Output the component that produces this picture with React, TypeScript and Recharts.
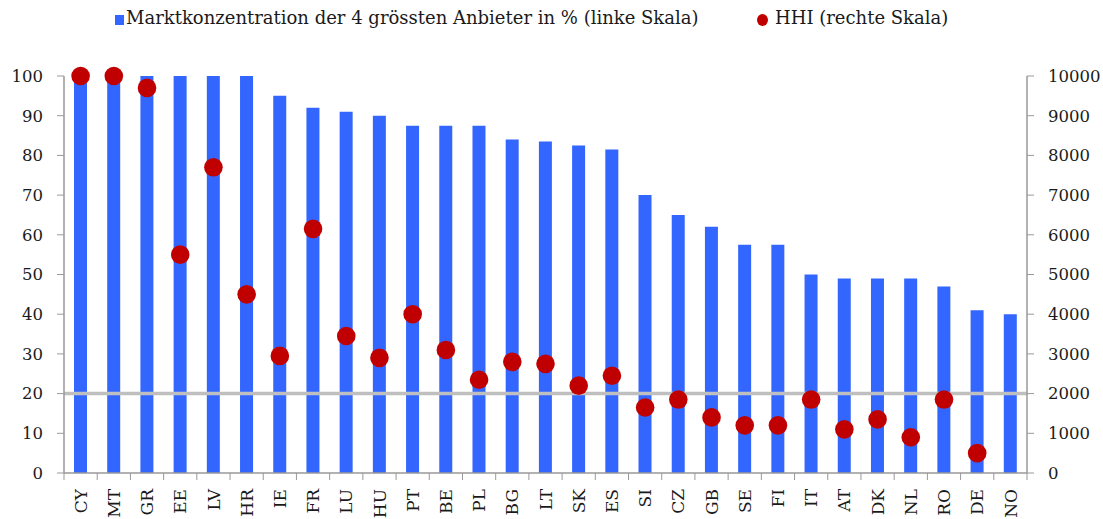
import {
  ComposedChart,
  Bar,
  Scatter,
  XAxis,
  YAxis,
  ReferenceLine,
  Legend,
} from 'recharts';

const countries = [
  'CY', 'MT', 'GR', 'EE', 'LV', 'HR', 'IE', 'FR', 'LU', 'HU',
  'PT', 'BE', 'PL', 'BG', 'LT', 'SK', 'ES', 'SI', 'CZ', 'GB',
  'SE', 'FI', 'IT', 'AT', 'DK', 'NL', 'RO', 'DE', 'NO',
];

const concentration = [
  100, 100, 100, 100, 100, 100, 95, 92, 91, 90,
  87.5, 87.5, 87.5, 84, 83.5, 82.5, 81.5, 70, 65, 62,
  57.5, 57.5, 50, 49, 49, 49, 47, 41, 40,
];

const hhi: (number | null)[] = [
  10000, 10000, 9700, 5500, 7700, 4500, 2950, 6150, 3450, 2900,
  4000, 3100, 2350, 2800, 2750, 2200, 2450, 1650, 1850, 1400,
  1200, 1200, 1850, 1100, 1350, 900, 1850, 500, null,
];

const leftTicks = [0, 10, 20, 30, 40, 50, 60, 70, 80, 90, 100];
const rightTicks = [0, 1000, 2000, 3000, 4000, 5000, 6000, 7000, 8000, 9000, 10000];

const data = countries.map((c, i) => ({
  country: c,
  conc: concentration[i],
  hhi: hhi[i],
}));

const FONT = '"DejaVu Serif", serif';
const BLUE = '#3366FF';
const RED = '#C00000';
const AXIS = '#999999';
const TEXT = '#1a1a1a';

const PLOT_LEFT = 64;
const PLOT_RIGHT = 1027;
const STEP = (PLOT_RIGHT - PLOT_LEFT) / countries.length;

function CountryTick(props: any) {
  const { x, y, payload, index } = props;
  const last = index === countries.length - 1;
  return (
    <g>
      <line x1={x - STEP / 2} y1={y - 8} x2={x - STEP / 2} y2={y - 1} stroke={AXIS} />
      {last && (
        <line x1={x + STEP / 2} y1={y - 8} x2={x + STEP / 2} y2={y - 1} stroke={AXIS} />
      )}
      <text
        transform={`translate(${x},${y + 8}) rotate(-90)`}
        textAnchor="end"
        dy="0.36em"
        fontSize={17}
        fill={TEXT}
        fontFamily={FONT}
      >
        {payload.value}
      </text>
    </g>
  );
}

function Dot(props: any) {
  const { cx, cy, payload } = props;
  if (payload?.hhi == null || !Number.isFinite(cy)) return <g />;
  return <circle cx={cx} cy={cy} r={9.3} fill={RED} />;
}

function LegendContent() {
  return (
    <div
      style={{
        position: 'relative',
        height: 40,
        width: 1103,
        fontFamily: FONT,
        fontSize: 18,
        color: TEXT,
      }}
    >
      <span
        style={{
          position: 'absolute',
          left: 115,
          top: 15,
          width: 9,
          height: 10,
          background: BLUE,
        }}
      />
      <span style={{ position: 'absolute', left: 126, top: 7, whiteSpace: 'nowrap' }}>
        Marktkonzentration der 4 grössten Anbieter in % (linke Skala)
      </span>
      <span
        style={{
          position: 'absolute',
          left: 757,
          top: 14,
          width: 11,
          height: 12,
          borderRadius: '50%',
          background: RED,
        }}
      />
      <span style={{ position: 'absolute', left: 775, top: 7, whiteSpace: 'nowrap' }}>
        HHI (rechte Skala)
      </span>
    </div>
  );
}

export default function App() {
  return (
    <div style={{ position: 'absolute', left: 0, top: 0, background: '#fff' }}>
      <ComposedChart
        width={1103}
        height={519}
        data={data}
        margin={{ top: 36, right: 0, bottom: 0, left: 0 }}
        style={{ fontFamily: FONT }}
      >
        <Legend
          verticalAlign="top"
          content={() => <LegendContent />}
          wrapperStyle={{ top: 0, left: 0, width: 1103, height: 40 }}
        />
        <XAxis
          dataKey="country"
          interval={0}
          height={46}
          tickLine={false}
          axisLine={{ stroke: AXIS, strokeWidth: 1.5 }}
          tick={<CountryTick />}
        />
        <YAxis
          yAxisId="left"
          width={64}
          domain={[0, 100]}
          ticks={leftTicks}
          tickSize={7}
          tickMargin={14}
          axisLine={{ stroke: AXIS, strokeWidth: 1.5 }}
          tickLine={{ stroke: AXIS }}
          tick={{ fontSize: 16.5, fill: TEXT, fontFamily: FONT }}
        />
        <YAxis
          yAxisId="right"
          orientation="right"
          width={76}
          domain={[0, 10000]}
          ticks={rightTicks}
          tickSize={7}
          tickMargin={14}
          axisLine={{ stroke: AXIS, strokeWidth: 1.5 }}
          tickLine={{ stroke: AXIS }}
          tick={{ fontSize: 16.5, fill: TEXT, fontFamily: FONT, textAnchor: 'start' }}
        />
        <Bar
          yAxisId="left"
          dataKey="conc"
          name="Marktkonzentration der 4 grössten Anbieter in % (linke Skala)"
          fill={BLUE}
          barSize={13}
          isAnimationActive={false}
        />
        <ReferenceLine yAxisId="left" y={20} stroke="#BFBFBF" strokeWidth={3.5} />
        <Scatter
          yAxisId="right"
          dataKey="hhi"
          name="HHI (rechte Skala)"
          fill={RED}
          shape={<Dot />}
          isAnimationActive={false}
        />
      </ComposedChart>
    </div>
  );
}
